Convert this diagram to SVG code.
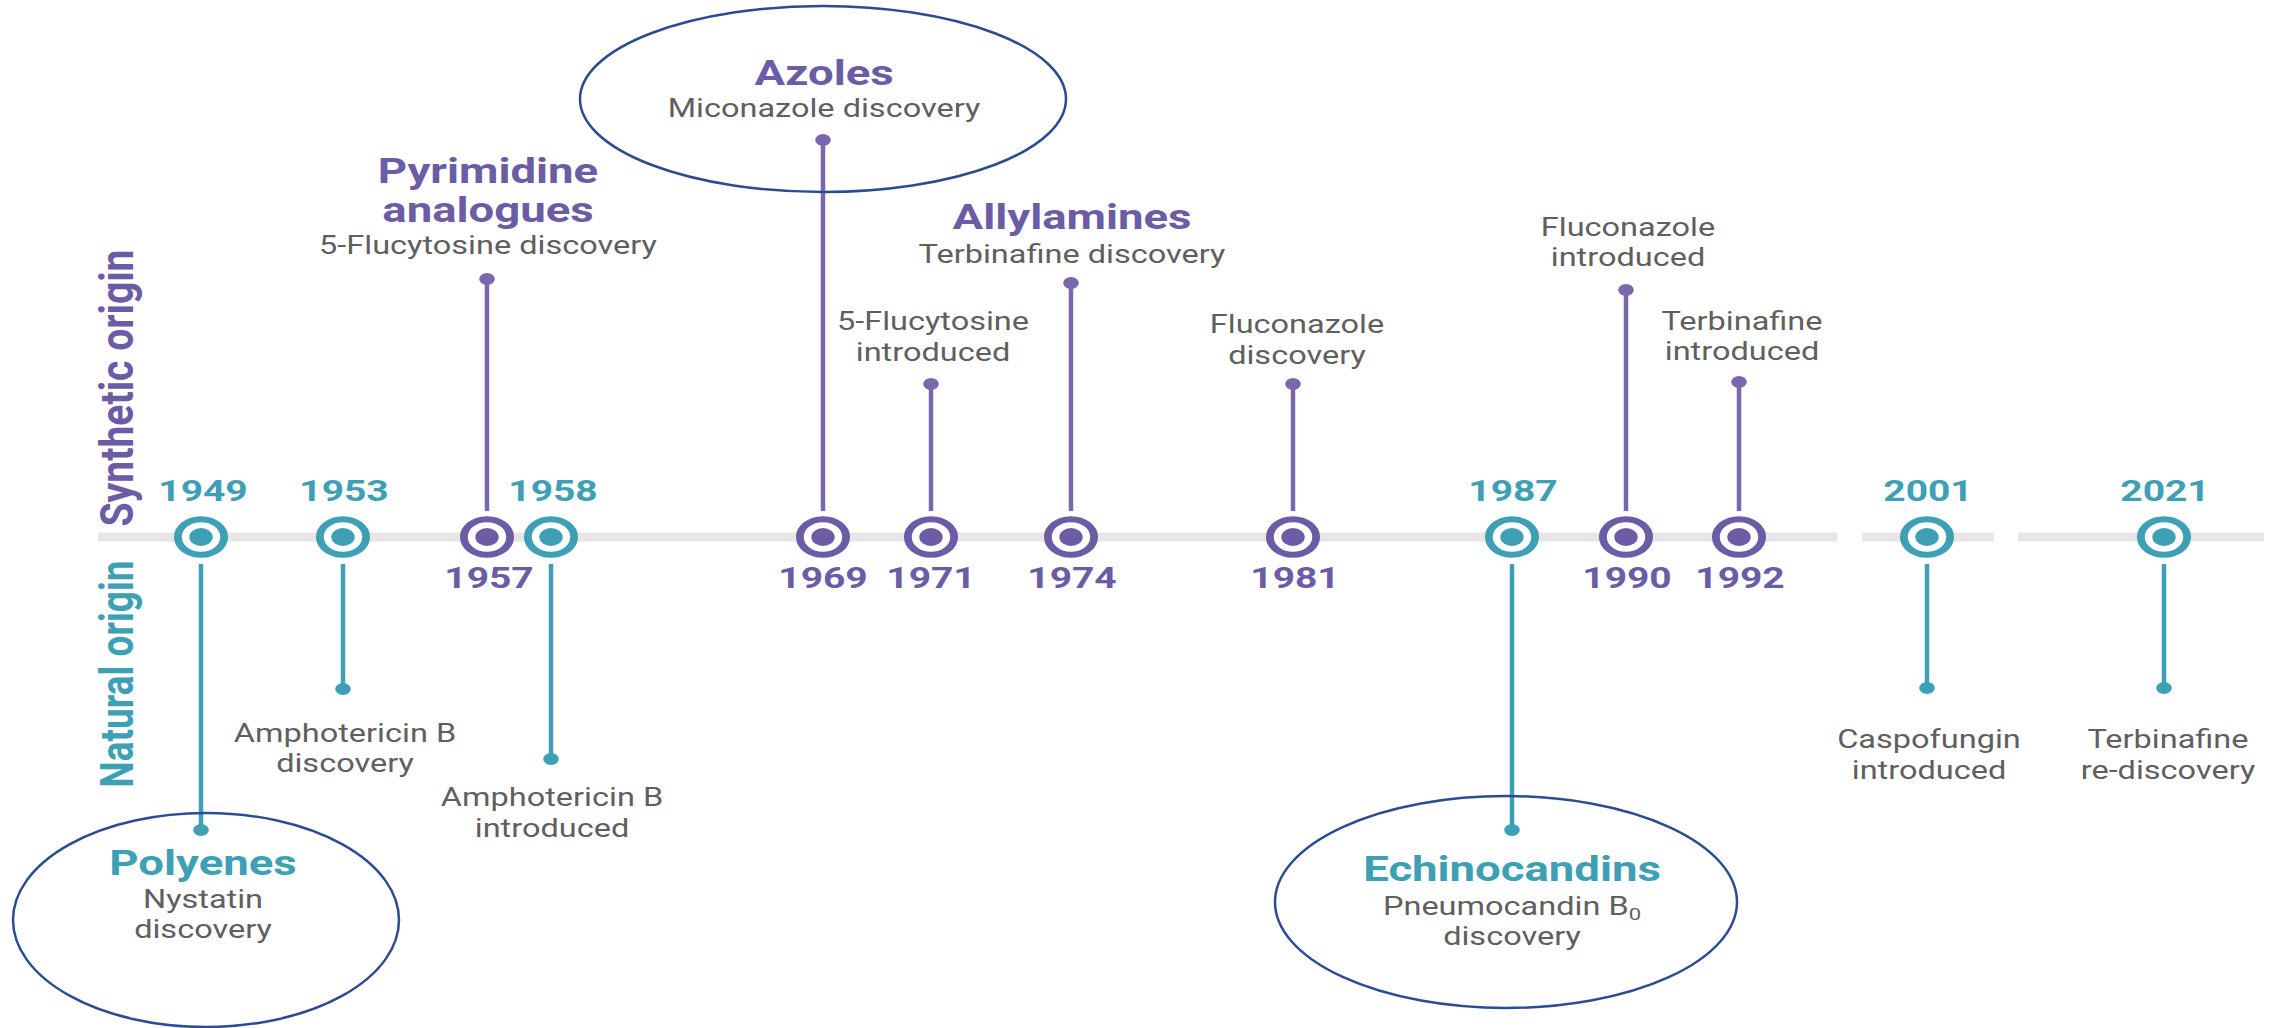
<svg xmlns="http://www.w3.org/2000/svg" xmlns:xlink="http://www.w3.org/1999/xlink" width="2290" height="1028" viewBox="0 0 2290 1028">
<style>
text{font-family:Roboto,"Liberation Sans",Arial,sans-serif;text-anchor:middle}
.yt{font-size:30px;font-weight:700;fill:#3da0b5}
.yp{font-size:30px;font-weight:700;fill:#6b5ca5}
.ht{font-size:35px;font-weight:700;fill:#3da0b5}
.hp{font-size:35px;font-weight:700;fill:#6b5ca5}
.sub{font-size:25px;fill:#5f5f5f}
.side{font-size:36px;font-weight:700}
.stT{stroke:#3da0b5;stroke-width:4.5}
.stP{stroke:#7a68ab;stroke-width:4.5}
.axis{stroke:#e6e6e6;stroke-width:9}
.hl{fill:none;stroke:#2b4c93;stroke-width:2.5}
</style>
<defs>
<g id="markT"><circle r="17.8" fill="#fff" stroke="#3da0b5" stroke-width="6"/><circle r="9" fill="#3da0b5"/></g>
<g id="markP"><circle r="17.8" fill="#fff" stroke="#6b5ca5" stroke-width="6"/><circle r="9" fill="#6b5ca5"/></g>
<circle id="dotT" r="6" fill="#3da0b5"/>
<circle id="dotP" r="6" fill="#7a68ab"/>
</defs>
<g id="axis">
<line class="axis" x1="98" y1="537" x2="1837" y2="537"/>
<line class="axis" x1="1862" y1="537" x2="1994" y2="537"/>
<line class="axis" x1="2018" y1="537" x2="2264" y2="537"/>
</g>
<g id="side-labels">
<text class="side" fill="#6b5ca5" textLength="277" lengthAdjust="spacingAndGlyphs" transform="translate(133 388) scale(1.3 1) rotate(-90)">Synthetic origin</text>
<text class="side" fill="#3da0b5" textLength="227" lengthAdjust="spacingAndGlyphs" transform="translate(133 674) scale(1.3 1) rotate(-90)">Natural origin</text>
</g>
<g id="connectors">
<line class="stT" x1="201" y1="564" x2="201" y2="830"/><use href="#dotT" transform="translate(201 830) scale(1.3 1)"/>
<line class="stT" x1="343" y1="564" x2="343" y2="689"/><use href="#dotT" transform="translate(343 689) scale(1.3 1)"/>
<line class="stT" x1="551" y1="564" x2="551" y2="759"/><use href="#dotT" transform="translate(551 759) scale(1.3 1)"/>
<line class="stT" x1="1512" y1="564" x2="1512" y2="830"/><use href="#dotT" transform="translate(1512 830) scale(1.3 1)"/>
<line class="stT" x1="1927" y1="564" x2="1927" y2="688"/><use href="#dotT" transform="translate(1927 688) scale(1.3 1)"/>
<line class="stT" x1="2164" y1="564" x2="2164" y2="688"/><use href="#dotT" transform="translate(2164 688) scale(1.3 1)"/>
<line class="stP" x1="487" y1="511" x2="487" y2="279"/><use href="#dotP" transform="translate(487 279) scale(1.3 1)"/>
<line class="stP" x1="823" y1="511" x2="823" y2="140"/><use href="#dotP" transform="translate(823 140) scale(1.3 1)"/>
<line class="stP" x1="931" y1="511" x2="931" y2="384"/><use href="#dotP" transform="translate(931 384) scale(1.3 1)"/>
<line class="stP" x1="1071" y1="511" x2="1071" y2="283"/><use href="#dotP" transform="translate(1071 283) scale(1.3 1)"/>
<line class="stP" x1="1293" y1="511" x2="1293" y2="384"/><use href="#dotP" transform="translate(1293 384) scale(1.3 1)"/>
<line class="stP" x1="1626" y1="511" x2="1626" y2="290"/><use href="#dotP" transform="translate(1626 290) scale(1.3 1)"/>
<line class="stP" x1="1739" y1="511" x2="1739" y2="382"/><use href="#dotP" transform="translate(1739 382) scale(1.3 1)"/>
</g>
<g id="n1949">
<use href="#markT" transform="translate(201 537) scale(1.3 1)"/>
<text class="yt" transform="translate(203 501) scale(1.3 1)">1949</text>
<text class="ht" transform="translate(203 875) scale(1.3 1)">Polyenes</text>
<text class="sub" transform="translate(203 908) scale(1.3 1)">Nystatin</text>
<text class="sub" transform="translate(203 938) scale(1.3 1)">discovery</text>
</g>
<g id="n1953">
<use href="#markT" transform="translate(343 537) scale(1.3 1)"/>
<text class="yt" transform="translate(344 501) scale(1.3 1)">1953</text>
<text class="sub" transform="translate(345 742) scale(1.3 1)">Amphotericin B</text>
<text class="sub" transform="translate(345 772) scale(1.3 1)">discovery</text>
</g>
<g id="n1957">
<use href="#markP" transform="translate(487 537) scale(1.3 1)"/>
<text class="yp" transform="translate(489 588) scale(1.3 1)">1957</text>
<text class="hp" transform="translate(488 183) scale(1.3 1)">Pyrimidine</text>
<text class="hp" transform="translate(488 222) scale(1.3 1)">analogues</text>
<text class="sub" transform="translate(488 254) scale(1.3 1)">5-Flucytosine discovery</text>
</g>
<g id="n1958">
<use href="#markT" transform="translate(551 537) scale(1.3 1)"/>
<text class="yt" transform="translate(553 501) scale(1.3 1)">1958</text>
<text class="sub" transform="translate(552 806) scale(1.3 1)">Amphotericin B</text>
<text class="sub" transform="translate(552 837) scale(1.3 1)">introduced</text>
</g>
<g id="n1969">
<use href="#markP" transform="translate(823 537) scale(1.3 1)"/>
<text class="yp" transform="translate(823 588) scale(1.3 1)">1969</text>
<text class="hp" transform="translate(824 85) scale(1.3 1)">Azoles</text>
<text class="sub" transform="translate(824 117) scale(1.3 1)">Miconazole discovery</text>
</g>
<g id="n1971">
<use href="#markP" transform="translate(931 537) scale(1.3 1)"/>
<text class="yp" transform="translate(931 588) scale(1.3 1)">1971</text>
<text class="sub" transform="translate(933 330) scale(1.3 1)">5-Flucytosine</text>
<text class="sub" transform="translate(933 361) scale(1.3 1)">introduced</text>
</g>
<g id="n1974">
<use href="#markP" transform="translate(1071 537) scale(1.3 1)"/>
<text class="yp" transform="translate(1072 588) scale(1.3 1)">1974</text>
<text class="hp" transform="translate(1072 229) scale(1.3 1)">Allylamines</text>
<text class="sub" transform="translate(1072 263) scale(1.3 1)">Terbinafine discovery</text>
</g>
<g id="n1981">
<use href="#markP" transform="translate(1293 537) scale(1.3 1)"/>
<text class="yp" transform="translate(1295 588) scale(1.3 1)">1981</text>
<text class="sub" transform="translate(1297 333) scale(1.3 1)">Fluconazole</text>
<text class="sub" transform="translate(1297 364) scale(1.3 1)">discovery</text>
</g>
<g id="n1987">
<use href="#markT" transform="translate(1512 537) scale(1.3 1)"/>
<text class="yt" transform="translate(1513 501) scale(1.3 1)">1987</text>
<text class="ht" transform="translate(1512 881) scale(1.3 1)">Echinocandins</text>
<text class="sub" transform="translate(1512 915) scale(1.3 1)">Pneumocandin B<tspan font-size="17" dy="5">0</tspan></text>
<text class="sub" transform="translate(1512 945) scale(1.3 1)">discovery</text>
</g>
<g id="n1990">
<use href="#markP" transform="translate(1626 537) scale(1.3 1)"/>
<text class="yp" transform="translate(1627 588) scale(1.3 1)">1990</text>
<text class="sub" transform="translate(1628 236) scale(1.3 1)">Fluconazole</text>
<text class="sub" transform="translate(1628 266) scale(1.3 1)">introduced</text>
</g>
<g id="n1992">
<use href="#markP" transform="translate(1739 537) scale(1.3 1)"/>
<text class="yp" transform="translate(1740 588) scale(1.3 1)">1992</text>
<text class="sub" transform="translate(1742 330) scale(1.3 1)">Terbinafine</text>
<text class="sub" transform="translate(1742 360) scale(1.3 1)">introduced</text>
</g>
<g id="n2001">
<use href="#markT" transform="translate(1927 537) scale(1.3 1)"/>
<text class="yt" transform="translate(1928 501) scale(1.3 1)">2001</text>
<text class="sub" transform="translate(1929 748) scale(1.3 1)">Caspofungin</text>
<text class="sub" transform="translate(1929 779) scale(1.3 1)">introduced</text>
</g>
<g id="n2021">
<use href="#markT" transform="translate(2164 537) scale(1.3 1)"/>
<text class="yt" transform="translate(2165 501) scale(1.3 1)">2021</text>
<text class="sub" transform="translate(2168 748) scale(1.3 1)">Terbinafine</text>
<text class="sub" transform="translate(2168 779) scale(1.3 1)">re-discovery</text>
</g>
<g id="highlights">
<ellipse class="hl" cx="823" cy="99" rx="243" ry="93"/>
<ellipse class="hl" cx="206" cy="920" rx="193" ry="107"/>
<ellipse class="hl" cx="1506" cy="902" rx="231" ry="106"/>
</g>
</svg>
